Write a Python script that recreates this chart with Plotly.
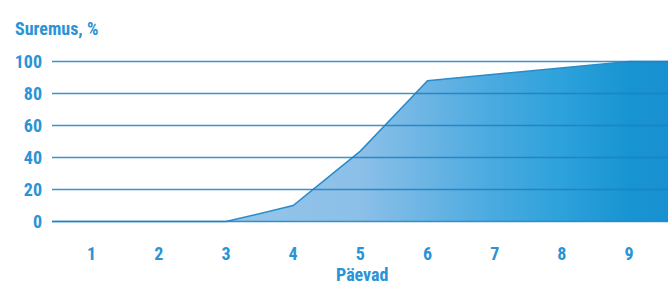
import plotly.graph_objects as go

# Data
days = [0, 1, 2, 3, 4, 5, 6, 7, 8, 9, 10]
mortality = [0, 0, 0, 0, 10, 44, 88, 92, 96, 100, 100]
x_ticks = [1, 2, 3, 4, 5, 6, 7, 8, 9]
y_ticks = [0, 20, 40, 60, 80, 100]

TXT = "#2a93d6"
FONT = "Roboto Condensed, Liberation Sans Narrow, Arial Narrow, sans-serif"

fig = go.Figure()
fig.add_trace(go.Scatter(
    x=days, y=mortality, mode="lines",
    line=dict(color="#2a8bc9", width=1.5),
    fill="tozeroy",
    fillgradient=dict(
        type="horizontal", start=3, stop=9.6,
        colorscale=[[0.0, "#95c5ea"], [0.3, "#8cc0e8"], [0.45, "#6cb5e4"],
                    [0.6, "#4aaae0"], [0.75, "#2ea2db"], [0.91, "#1794d2"],
                    [1.0, "#1a90cf"]],
    ),
    hoverinfo="skip", showlegend=False,
))

for v in y_ticks:
    fig.add_shape(type="line", xref="paper", x0=0, x1=1, yref="y", y0=v, y1=v,
                  line=dict(color="rgba(30,128,192,0.85)", width=1.5), layer="above")

fig.update_layout(
    width=668, height=284,
    margin=dict(l=52, r=0, t=59, b=60),
    paper_bgcolor="white", plot_bgcolor="white",
    font=dict(family=FONT, color=TXT, size=18, weight="bold"),
    title=dict(text="Suremus, %", x=15/668, xanchor="left", xref="container",
               y=1 - 29/284, yanchor="middle", yref="container",
               font=dict(family=FONT, size=18, color=TXT, weight="bold")),
    xaxis=dict(range=[0.41, 9.58], tickvals=x_ticks, showgrid=False, zeroline=False,
               showline=False, ticks="", ticklabelstandoff=17,
               tickfont=dict(family=FONT, size=18, color=TXT, weight="bold")),
    yaxis=dict(range=[-1.5, 101.5], tickvals=y_ticks, showgrid=False, zeroline=False,
               showline=False, ticks="", ticklabelstandoff=9,
               tickfont=dict(family=FONT, size=18, color=TXT, weight="bold")),
    annotations=[dict(text="Päevad", xref="paper", x=(362-52)/616, xanchor="center",
                      yref="paper", y=-(272-222)/165, yanchor="middle",
                      showarrow=False, borderpad=0,
                      font=dict(family=FONT, size=18, color=TXT, weight="bold"))],
)

fig.write_html("out.html", config={"displayModeBar": False},
               post_script="document.body.style.margin='0';")
